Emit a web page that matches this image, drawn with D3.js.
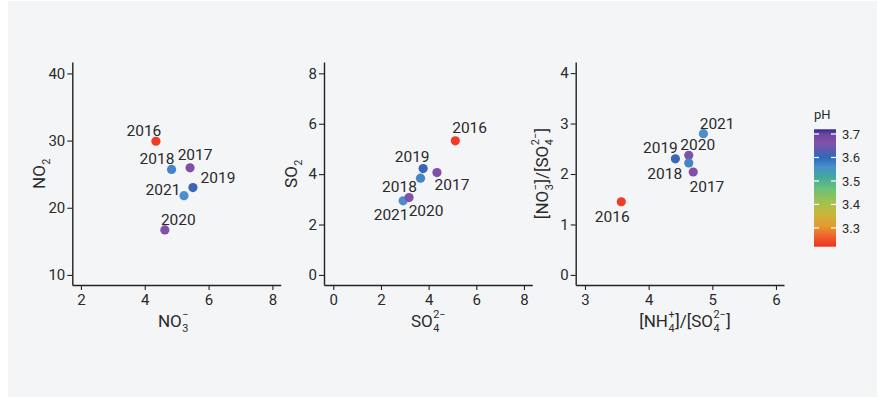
<!DOCTYPE html>
<html>
<head>
<meta charset="utf-8">
<script src="https://cdn.jsdelivr.net/npm/d3@7"></script>
<style>
  html, body { margin: 0; padding: 0; background: #ffffff; }
  svg { display: block; font-family: Roboto, "Noto Sans", sans-serif; }
  text { fill: #2a2a2a; }
</style>
</head>
<body>
<svg id="chart" width="885" height="401"></svg>
<script>
// ---------------- data ----------------
const years    = ["2016", "2017", "2018", "2019", "2020", "2021"];
const pH       = [3.23, 3.67, 3.57, 3.61, 3.66, 3.56];
const no3      = [4.35, 5.42, 4.84, 5.51, 4.63, 5.23];
const no2      = [29.9, 25.95, 25.7, 23.0, 16.7, 21.8];
const so4      = [5.12, 4.35, 3.66, 3.77, 3.18, 2.93];
const so2      = [5.32, 4.06, 3.84, 4.22, 3.07, 2.94];
const nh4Ratio = [3.57, 4.70, 4.63, 4.42, 4.63, 4.86];
const no3Ratio = [1.45, 2.04, 2.22, 2.30, 2.37, 2.80];

const xTicks1 = [2, 4, 6, 8];
const yTicks1 = [10, 20, 30, 40];
const xTicks2 = [0, 2, 4, 6, 8];
const yTicks2 = [0, 2, 4, 6, 8];
const xTicks3 = [3, 4, 5, 6];
const yTicks3 = [0, 1, 2, 3, 4];
const phTicks = [3.3, 3.4, 3.5, 3.6, 3.7];

// colour ramp of the pH bar (value -> colour)
const phStops  = [3.22, 3.27, 3.31, 3.36, 3.41, 3.47, 3.52, 3.56, 3.60, 3.63, 3.665, 3.70, 3.72];
const phColors = ["#ee3024", "#ee6a2c", "#e29c32", "#c8b63a", "#a0c250", "#68c07a", "#3ea8a0",
                  "#4a8ecc", "#2c6ab8", "#5a5cb0", "#8450a8", "#6a48a0", "#2c2888"];

// ---------------- layout (not data) ----------------
const W = 885, H = 401;
const panels = [
  { x: no3, y: no2, xDom: [1.73, 8.26], yDom: [8.5, 41.7], xR: [72.3, 280.7],
    xTicks: xTicks1, yTicks: yTicks1, xTitleX: 173.5,
    xTitle: [{n: "NO"}, {sup: "−", sub: "3"}],
    yTitle: [{n: "NO"}, {sub: "2"}],
    nudge: [[-12, -11], [5, -13.7], [-14.5, -11], [25, -10], [13.5, -10.7], [-21, -6]] },
  { x: so4, y: so2, xDom: [-0.39, 8.35], yDom: [-0.4, 8.45], xR: [324, 532.3],
    xTicks: xTicks2, yTicks: yTicks2, xTitleX: 428.5,
    xTitle: [{n: "SO"}, {sup: "2−", sub: "4"}],
    yTitle: [{n: "SO"}, {sub: "2"}],
    nudge: [[14.3, -13.3], [15, 12.3], [-21, 8.3], [-11, -12], [17, 13.3], [-12, 14]] },
  { x: nh4Ratio, y: no3Ratio, xDom: [2.854, 6.126], yDom: [-0.2, 4.22], xR: [575.7, 784],
    xTicks: xTicks3, yTicks: yTicks3, xTitleX: 685,
    xTitle: [{n: "[NH"}, {sup: "+", sub: "4"}, {n: "]/[SO"}, {sup: "2−", sub: "4"}, {n: "]"}],
    yTitle: [{n: "[NO"}, {sup: "−", sub: "3"}, {n: "]/[SO"}, {sup: "2−", sub: "4"}, {n: "]"}],
    nudge: [[-9, 14.7], [13.7, 14.7], [-24, 11], [-15, -11.7], [9, -10.7], [13.7, -10.3]] }
];
const yRange = [285, 62];

const svg = d3.select("#chart");
svg.append("rect").attr("x", 8).attr("y", 1).attr("width", 869).attr("height", 396)
  .attr("fill", "#f4f5f7");

const color = d3.scaleLinear().domain(phStops).range(phColors).clamp(true);

function richText(g, parts, size) {
  const inner = g.append("g");
  const small = size * 0.64;
  let x = 0;
  parts.forEach(p => {
    if (p.n !== undefined) {
      const t = inner.append("text").attr("x", x).attr("y", 0)
        .attr("font-size", size).text(p.n);
      x += t.node().getComputedTextLength();
    } else {
      let w = 0;
      if (p.sup) {
        const t = inner.append("text").attr("x", x + 0.5).attr("y", -size * 0.53)
          .attr("font-size", small).text(p.sup);
        w = Math.max(w, t.node().getComputedTextLength());
      }
      if (p.sub) {
        const t = inner.append("text").attr("x", x + 0.5).attr("y", size * 0.3)
          .attr("font-size", small).text(p.sub);
        w = Math.max(w, t.node().getComputedTextLength());
      }
      x += w + 1;
    }
  });
  inner.attr("transform", `translate(${-x / 2},0)`);
}

// draw order: reverse of years (later years underneath earlier ones)
const order = d3.range(years.length).reverse();

panels.forEach(P => {
  const xs = d3.scaleLinear().domain(P.xDom).range(P.xR);
  const ys = d3.scaleLinear().domain(P.yDom).range(yRange);
  const g = svg.append("g");

  const xAxis = g.append("g").attr("transform", `translate(0,${yRange[0]})`)
    .call(d3.axisBottom(xs).tickValues(P.xTicks).tickSize(5).tickSizeOuter(0).tickPadding(4)
      .tickFormat(d3.format("d")));
  const yAxis = g.append("g").attr("transform", `translate(${P.xR[0]},0)`)
    .call(d3.axisLeft(ys).tickValues(P.yTicks).tickSize(5).tickSizeOuter(0).tickPadding(2)
      .tickFormat(d3.format("d")));
  [xAxis, yAxis].forEach(a => {
    a.select(".domain").attr("stroke", "#222").attr("stroke-width", 1.4);
    a.selectAll(".tick line").attr("stroke", "#222").attr("stroke-width", 1.1);
    a.selectAll(".tick text").attr("fill", "#2a2a2a").attr("font-size", 15)
      .attr("font-family", "Roboto, sans-serif");
  });

  // points
  g.append("g").selectAll("circle").data(order).join("circle")
    .attr("cx", i => xs(P.x[i])).attr("cy", i => ys(P.y[i]))
    .attr("r", 4.6).attr("fill", i => color(pH[i]));

  // labels
  g.append("g").selectAll("text").data(d3.range(years.length)).join("text")
    .attr("x", i => xs(P.x[i]) + P.nudge[i][0])
    .attr("y", i => ys(P.y[i]) + P.nudge[i][1])
    .attr("dy", "0.36em").attr("text-anchor", "middle")
    .attr("font-size", 15.5).text(i => years[i]);

  // axis titles
  const xt = g.append("g").attr("transform", `translate(${P.xTitleX},327)`);
  richText(xt, P.xTitle, 17);
  const yt = g.append("g")
    .attr("transform", `translate(${P.xR[0] - 27.5},${(yRange[0] + yRange[1]) / 2}) rotate(-90)`);
  richText(yt, P.yTitle, 17);
});

// ---------------- legend ----------------
const legX = 814, legW = 22, legTop = 129.3, legBot = 246.7;
const ls = d3.scaleLinear().domain([phStops[0], phStops[phStops.length - 1]]).range([legBot, legTop]);
const defs = svg.append("defs");
const grad = defs.append("linearGradient").attr("id", "phgrad")
  .attr("x1", 0).attr("y1", 1).attr("x2", 0).attr("y2", 0);
phStops.forEach((s, i) => {
  grad.append("stop")
    .attr("offset", (s - phStops[0]) / (phStops[phStops.length - 1] - phStops[0]))
    .attr("stop-color", phColors[i]);
});
svg.append("rect").attr("x", legX).attr("y", legTop).attr("width", legW)
  .attr("height", legBot - legTop).attr("fill", "url(#phgrad)");
const lt = svg.append("g");
phTicks.forEach(t => {
  const y = ls(t);
  lt.append("line").attr("x1", legX).attr("x2", legX + 5).attr("y1", y).attr("y2", y)
    .attr("stroke", "#fff").attr("stroke-width", 1.2);
  lt.append("line").attr("x1", legX + legW - 5).attr("x2", legX + legW).attr("y1", y).attr("y2", y)
    .attr("stroke", "#fff").attr("stroke-width", 1.2);
  lt.append("text").attr("x", legX + legW + 6).attr("y", y).attr("dy", "0.36em")
    .attr("font-size", 13).text(d3.format(".1f")(t));
});
svg.append("text").attr("x", legX).attr("y", 118.5).attr("font-size", 13).text("pH");
</script>
</body>
</html>
